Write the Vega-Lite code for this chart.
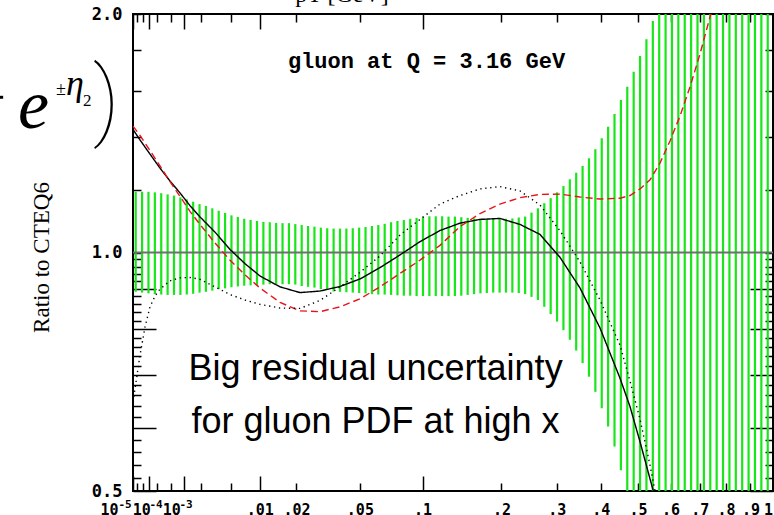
{
  "$schema": "https://vega.github.io/schema/vega-lite/v6.json",
  "width": 640,
  "height": 477,
  "autosize": {"type": "none"},
  "padding": {"left": 133, "top": 14, "right": 1, "bottom": 24},
  "background": "white",
  "config": {
    "view": {"stroke": "black", "strokeWidth": 2},
    "axis": {"grid": false, "domain": false, "tickColor": "black", "tickWidth": 1.5, "labelColor": "black"}
  },
  "datasets": {
    "band": [
      {"x": 1.692e-5, "lo": 0.892, "hi": 1.193},
      {"x": 4.448e-5, "lo": 0.890, "hi": 1.193},
      {"x": 9.230e-5, "lo": 0.888, "hi": 1.193},
      {"x": 1.6595e-4, "lo": 0.886, "hi": 1.191},
      {"x": 2.710e-4, "lo": 0.885, "hi": 1.188},
      {"x": 4.131e-4, "lo": 0.884, "hi": 1.184},
      {"x": 5.977e-4, "lo": 0.884, "hi": 1.180},
      {"x": 8.304e-4, "lo": 0.884, "hi": 1.174},
      {"x": 1.1169e-3, "lo": 0.885, "hi": 1.167},
      {"x": 1.4627e-3, "lo": 0.887, "hi": 1.159},
      {"x": 1.8734e-3, "lo": 0.890, "hi": 1.151},
      {"x": 2.3545e-3, "lo": 0.892, "hi": 1.145},
      {"x": 2.9117e-3, "lo": 0.895, "hi": 1.137},
      {"x": 3.5505e-3, "lo": 0.899, "hi": 1.129},
      {"x": 4.2764e-3, "lo": 0.901, "hi": 1.122},
      {"x": 5.0952e-3, "lo": 0.904, "hi": 1.114},
      {"x": 6.0124e-3, "lo": 0.906, "hi": 1.109},
      {"x": 7.0334e-3, "lo": 0.908, "hi": 1.103},
      {"x": 8.164e-3, "lo": 0.909, "hi": 1.099},
      {"x": 9.4097e-3, "lo": 0.910, "hi": 1.096},
      {"x": 0.010776, "lo": 0.911, "hi": 1.093},
      {"x": 0.012269, "lo": 0.912, "hi": 1.092},
      {"x": 0.013893, "lo": 0.912, "hi": 1.090},
      {"x": 0.015655, "lo": 0.912, "hi": 1.089},
      {"x": 0.017560, "lo": 0.912, "hi": 1.089},
      {"x": 0.019613, "lo": 0.911, "hi": 1.086},
      {"x": 0.021821, "lo": 0.907, "hi": 1.083},
      {"x": 0.024188, "lo": 0.905, "hi": 1.080},
      {"x": 0.026720, "lo": 0.903, "hi": 1.078},
      {"x": 0.029424, "lo": 0.899, "hi": 1.075},
      {"x": 0.032304, "lo": 0.897, "hi": 1.073},
      {"x": 0.035365, "lo": 0.893, "hi": 1.072},
      {"x": 0.038615, "lo": 0.892, "hi": 1.072},
      {"x": 0.042057, "lo": 0.891, "hi": 1.072},
      {"x": 0.045699, "lo": 0.890, "hi": 1.073},
      {"x": 0.049545, "lo": 0.889, "hi": 1.075},
      {"x": 0.053601, "lo": 0.888, "hi": 1.077},
      {"x": 0.057872, "lo": 0.886, "hi": 1.080},
      {"x": 0.062364, "lo": 0.885, "hi": 1.083},
      {"x": 0.067084, "lo": 0.885, "hi": 1.087},
      {"x": 0.072035, "lo": 0.884, "hi": 1.092},
      {"x": 0.077224, "lo": 0.883, "hi": 1.096},
      {"x": 0.082657, "lo": 0.882, "hi": 1.099},
      {"x": 0.088338, "lo": 0.882, "hi": 1.103},
      {"x": 0.094274, "lo": 0.881, "hi": 1.106},
      {"x": 0.100471, "lo": 0.881, "hi": 1.109},
      {"x": 0.106933, "lo": 0.881, "hi": 1.111},
      {"x": 0.113665, "lo": 0.881, "hi": 1.111},
      {"x": 0.120675, "lo": 0.881, "hi": 1.111},
      {"x": 0.127968, "lo": 0.881, "hi": 1.110},
      {"x": 0.135549, "lo": 0.881, "hi": 1.110},
      {"x": 0.143423, "lo": 0.882, "hi": 1.108},
      {"x": 0.151597, "lo": 0.884, "hi": 1.106},
      {"x": 0.160075, "lo": 0.886, "hi": 1.104},
      {"x": 0.168863, "lo": 0.888, "hi": 1.103},
      {"x": 0.177968, "lo": 0.889, "hi": 1.102},
      {"x": 0.187394, "lo": 0.890, "hi": 1.102},
      {"x": 0.197146, "lo": 0.890, "hi": 1.102},
      {"x": 0.207233, "lo": 0.890, "hi": 1.103},
      {"x": 0.217657, "lo": 0.890, "hi": 1.104},
      {"x": 0.228424, "lo": 0.889, "hi": 1.107},
      {"x": 0.239541, "lo": 0.886, "hi": 1.110},
      {"x": 0.251014, "lo": 0.879, "hi": 1.123},
      {"x": 0.262846, "lo": 0.871, "hi": 1.137},
      {"x": 0.275044, "lo": 0.854, "hi": 1.154},
      {"x": 0.287616, "lo": 0.836, "hi": 1.171},
      {"x": 0.300564, "lo": 0.818, "hi": 1.191},
      {"x": 0.313894, "lo": 0.798, "hi": 1.213},
      {"x": 0.327614, "lo": 0.776, "hi": 1.237},
      {"x": 0.341727, "lo": 0.752, "hi": 1.261},
      {"x": 0.356239, "lo": 0.725, "hi": 1.286},
      {"x": 0.371157, "lo": 0.697, "hi": 1.315},
      {"x": 0.386487, "lo": 0.667, "hi": 1.350},
      {"x": 0.402232, "lo": 0.636, "hi": 1.394},
      {"x": 0.418398, "lo": 0.603, "hi": 1.441},
      {"x": 0.434994, "lo": 0.569, "hi": 1.496},
      {"x": 0.452019, "lo": 0.531, "hi": 1.558},
      {"x": 0.469486, "lo": 0.492, "hi": 1.619},
      {"x": 0.487399, "lo": 0.455, "hi": 1.691},
      {"x": 0.505758, "lo": 0.420, "hi": 1.770},
      {"x": 0.524574, "lo": 0.390, "hi": 1.858},
      {"x": 0.543852, "lo": 0.360, "hi": 1.960},
      {"x": 0.563595, "lo": 0.330, "hi": 2.07},
      {"x": 0.583811, "lo": 0.300, "hi": 2.19},
      {"x": 0.604503, "lo": 0.280, "hi": 2.32},
      {"x": 0.625680, "lo": 0.260, "hi": 2.46},
      {"x": 0.647345, "lo": 0.240, "hi": 2.61},
      {"x": 0.669505, "lo": 0.220, "hi": 2.78},
      {"x": 0.692163, "lo": 0.200, "hi": 2.96},
      {"x": 0.715330, "lo": 0.190, "hi": 3.15},
      {"x": 0.739006, "lo": 0.180, "hi": 3.36},
      {"x": 0.763199, "lo": 0.170, "hi": 3.60},
      {"x": 0.787916, "lo": 0.160, "hi": 3.85},
      {"x": 0.813159, "lo": 0.150, "hi": 4.10},
      {"x": 0.838935, "lo": 0.140, "hi": 4.40},
      {"x": 0.865253, "lo": 0.130, "hi": 4.70},
      {"x": 0.892114, "lo": 0.120, "hi": 5.00},
      {"x": 0.919524, "lo": 0.110, "hi": 5.40},
      {"x": 0.947493, "lo": 0.100, "hi": 5.80},
      {"x": 0.976020, "lo": 0.090, "hi": 6.20}
    ],
    "curves": [
      {"s": "solid", "x": 1e-5, "v": 1.430},
      {"s": "solid", "x": 3.353e-5, "v": 1.387},
      {"s": "solid", "x": 1.0741e-4, "v": 1.331},
      {"s": "solid", "x": 2.4795e-4, "v": 1.278},
      {"s": "solid", "x": 4.766e-4, "v": 1.231},
      {"s": "solid", "x": 8.148e-4, "v": 1.189},
      {"s": "solid", "x": 1.284e-3, "v": 1.146},
      {"s": "solid", "x": 1.9056e-3, "v": 1.109},
      {"s": "solid", "x": 3.1708e-3, "v": 1.061},
      {"s": "solid", "x": 4.8995e-3, "v": 1.009},
      {"s": "solid", "x": 7.164e-3, "v": 0.968},
      {"s": "solid", "x": 0.010037, "v": 0.934},
      {"s": "solid", "x": 0.014939, "v": 0.905},
      {"s": "solid", "x": 0.021223, "v": 0.890},
      {"s": "solid", "x": 0.029060, "v": 0.894},
      {"s": "solid", "x": 0.038622, "v": 0.906},
      {"s": "solid", "x": 0.050078, "v": 0.926},
      {"s": "solid", "x": 0.063604, "v": 0.957},
      {"s": "solid", "x": 0.079369, "v": 0.993},
      {"s": "solid", "x": 0.097546, "v": 1.032},
      {"s": "solid", "x": 0.1183, "v": 1.066},
      {"s": "solid", "x": 0.14181, "v": 1.089},
      {"s": "solid", "x": 0.16825, "v": 1.101},
      {"s": "solid", "x": 0.19779, "v": 1.104},
      {"s": "solid", "x": 0.23059, "v": 1.085},
      {"s": "solid", "x": 0.26683, "v": 1.054},
      {"s": "solid", "x": 0.30668, "v": 0.986},
      {"s": "solid", "x": 0.35032, "v": 0.902},
      {"s": "solid", "x": 0.39791, "v": 0.803},
      {"s": "solid", "x": 0.44963, "v": 0.694},
      {"s": "solid", "x": 0.477092, "v": 0.639},
      {"s": "solid", "x": 0.50565, "v": 0.577},
      {"s": "solid", "x": 0.535322, "v": 0.518},
      {"s": "solid", "x": 0.550586, "v": 0.491},
      {"s": "dashed", "x": 1e-5, "v": 1.444},
      {"s": "dashed", "x": 3.353e-5, "v": 1.405},
      {"s": "dashed", "x": 1.0741e-4, "v": 1.345},
      {"s": "dashed", "x": 2.4795e-4, "v": 1.286},
      {"s": "dashed", "x": 4.766e-4, "v": 1.229},
      {"s": "dashed", "x": 8.148e-4, "v": 1.177},
      {"s": "dashed", "x": 1.284e-3, "v": 1.127},
      {"s": "dashed", "x": 1.9056e-3, "v": 1.085},
      {"s": "dashed", "x": 3.1708e-3, "v": 1.028},
      {"s": "dashed", "x": 4.8995e-3, "v": 0.978},
      {"s": "dashed", "x": 7.164e-3, "v": 0.937},
      {"s": "dashed", "x": 0.010037, "v": 0.902},
      {"s": "dashed", "x": 0.014939, "v": 0.865},
      {"s": "dashed", "x": 0.021223, "v": 0.844},
      {"s": "dashed", "x": 0.029060, "v": 0.842},
      {"s": "dashed", "x": 0.038622, "v": 0.854},
      {"s": "dashed", "x": 0.050078, "v": 0.874},
      {"s": "dashed", "x": 0.063604, "v": 0.905},
      {"s": "dashed", "x": 0.079369, "v": 0.941},
      {"s": "dashed", "x": 0.097546, "v": 0.978},
      {"s": "dashed", "x": 0.1183, "v": 1.021},
      {"s": "dashed", "x": 0.14181, "v": 1.078},
      {"s": "dashed", "x": 0.16825, "v": 1.120},
      {"s": "dashed", "x": 0.19779, "v": 1.151},
      {"s": "dashed", "x": 0.23059, "v": 1.173},
      {"s": "dashed", "x": 0.26683, "v": 1.184},
      {"s": "dashed", "x": 0.30668, "v": 1.185},
      {"s": "dashed", "x": 0.35032, "v": 1.175},
      {"s": "dashed", "x": 0.39791, "v": 1.168},
      {"s": "dashed", "x": 0.44963, "v": 1.171},
      {"s": "dashed", "x": 0.477092, "v": 1.180},
      {"s": "dashed", "x": 0.50565, "v": 1.203},
      {"s": "dashed", "x": 0.535322, "v": 1.235},
      {"s": "dashed", "x": 0.56614, "v": 1.297},
      {"s": "dashed", "x": 0.598107, "v": 1.383},
      {"s": "dashed", "x": 0.63128, "v": 1.487},
      {"s": "dashed", "x": 0.66563, "v": 1.618},
      {"s": "dashed", "x": 0.70121, "v": 1.781},
      {"s": "dashed", "x": 0.738026, "v": 1.983},
      {"s": "dashed", "x": 0.74932, "v": 2.05},
      {"s": "dotted", "x": 1e-5, "v": 0.648},
      {"s": "dotted", "x": 1.784e-5, "v": 0.686},
      {"s": "dotted", "x": 3.353e-5, "v": 0.742},
      {"s": "dotted", "x": 6.348e-5, "v": 0.805},
      {"s": "dotted", "x": 1.0741e-4, "v": 0.854},
      {"s": "dotted", "x": 1.680e-4, "v": 0.881},
      {"s": "dotted", "x": 2.4795e-4, "v": 0.899},
      {"s": "dotted", "x": 4.766e-4, "v": 0.921},
      {"s": "dotted", "x": 8.148e-4, "v": 0.929},
      {"s": "dotted", "x": 1.284e-3, "v": 0.930},
      {"s": "dotted", "x": 1.9056e-3, "v": 0.925},
      {"s": "dotted", "x": 3.1708e-3, "v": 0.905},
      {"s": "dotted", "x": 4.8995e-3, "v": 0.885},
      {"s": "dotted", "x": 7.164e-3, "v": 0.871},
      {"s": "dotted", "x": 0.010037, "v": 0.860},
      {"s": "dotted", "x": 0.014939, "v": 0.851},
      {"s": "dotted", "x": 0.021223, "v": 0.850},
      {"s": "dotted", "x": 0.029060, "v": 0.870},
      {"s": "dotted", "x": 0.038622, "v": 0.905},
      {"s": "dotted", "x": 0.050078, "v": 0.944},
      {"s": "dotted", "x": 0.063604, "v": 0.990},
      {"s": "dotted", "x": 0.079369, "v": 1.052},
      {"s": "dotted", "x": 0.097546, "v": 1.101},
      {"s": "dotted", "x": 0.1183, "v": 1.151},
      {"s": "dotted", "x": 0.14181, "v": 1.180},
      {"s": "dotted", "x": 0.16825, "v": 1.203},
      {"s": "dotted", "x": 0.19779, "v": 1.211},
      {"s": "dotted", "x": 0.23059, "v": 1.196},
      {"s": "dotted", "x": 0.26683, "v": 1.148},
      {"s": "dotted", "x": 0.30668, "v": 1.065},
      {"s": "dotted", "x": 0.35032, "v": 0.973},
      {"s": "dotted", "x": 0.39791, "v": 0.871},
      {"s": "dotted", "x": 0.44963, "v": 0.764},
      {"s": "dotted", "x": 0.477092, "v": 0.688},
      {"s": "dotted", "x": 0.50565, "v": 0.616},
      {"s": "dotted", "x": 0.535322, "v": 0.539},
      {"s": "dotted", "x": 0.550586, "v": 0.500},
      {"s": "dotted", "x": 0.559879, "v": 0.480}
    ]
  },
  "resolve": {"axis": {"x": "independent", "y": "independent"}},
  "layer": [
    {
      "data": {"name": "band"},
      "mark": {"type": "rule", "color": "#19e619", "strokeWidth": 2.2, "clip": true},
      "encoding": {
        "x": {
          "field": "x",
          "type": "quantitative",
          "scale": {"type": "pow", "exponent": 0.333333333333, "domain": [0.00001, 1], "nice": false, "zero": false},
          "axis": {
            "orient": "bottom",
            "title": null,
            "values": [0.00001, 0.00002, 0.00005, 0.0001, 0.0002, 0.0005, 0.001, 0.002, 0.005, 0.01, 0.02, 0.05, 0.1, 0.2, 0.3, 0.4, 0.5, 0.6, 0.7, 0.8, 0.9, 1],
            "labelExpr": "(datum.value < 1.5e-5 || (datum.value > 9e-5 && datum.value < 1.1e-4) || (datum.value > 9e-4 && datum.value < 1.1e-3)) ? '10' : datum.value > 0.999 ? '1' : datum.value > 0.0099 ? replace(format(datum.value, '.2~f'), '0.', '.') : ''",
            "labelFont": "DejaVu Sans Mono",
            "labelFontSize": 15,
            "labelFontWeight": "bold",
            "labelFlush": false,
            "labelOverlap": false,
            "labelBaseline": "top",
            "labelAlign": "center",
            "tickSize": {"condition": {"test": "abs(log(datum.value)/LN10 - round(log(datum.value)/LN10)) < 0.01", "value": -15}, "value": -8},
            "labelPadding": {"condition": {"test": "abs(log(datum.value)/LN10 - round(log(datum.value)/LN10)) < 0.01", "value": 26}, "value": 19},
            "labelOffset": {
              "condition": [
                {"test": "datum.value < 1.5e-5", "value": -24},
                {"test": "datum.value > 9e-5 && datum.value < 1.1e-4", "value": -8},
                {"test": "datum.value > 9e-4 && datum.value < 1.1e-3", "value": -13},
                {"test": "datum.value > 0.99", "value": -5}
              ],
              "value": 0
            }
          }
        },
        "y": {
          "field": "lo",
          "type": "quantitative",
          "scale": {"type": "log", "domain": [0.5, 2], "nice": false},
          "axis": {
            "orient": "left",
            "title": "Ratio to CTEQ6",
            "titleFont": "Liberation Serif",
            "titleFontSize": 23,
            "titleFontWeight": "normal",
            "titleColor": "black",
            "titleAngle": 270,
            "titleAlign": "center",
            "titleBaseline": "middle",
            "titleX": -92,
            "titleY": 243,
            "values": [0.5, 0.52, 0.54, 0.56, 0.58, 0.6, 0.62, 0.64, 0.66, 0.68, 0.7, 0.72, 0.74, 0.76, 0.78, 0.8, 0.82, 0.84, 0.86, 0.88, 0.9, 0.92, 0.94, 0.96, 0.98, 1, 1.2, 1.4, 1.6, 1.8, 2],
            "labelExpr": "abs(datum.value - 0.5) < 0.001 ? '0.5' : abs(datum.value - 1) < 0.001 ? '1.0' : abs(datum.value - 2) < 0.001 ? '2.0' : ''",
            "labelFont": "DejaVu Sans Mono",
            "labelFontSize": 17,
            "labelFontWeight": "bold",
            "labelFlush": false,
            "labelOverlap": false,
            "labelAlign": "right",
            "labelBaseline": "middle",
            "tickSize": {"condition": {"test": "datum.value < 0.95 && abs(datum.value*10 - round(datum.value*10)) < 0.01", "value": -23}, "value": -8},
            "labelPadding": {"condition": {"test": "datum.value < 0.95 && abs(datum.value*10 - round(datum.value*10)) < 0.01", "value": 34}, "value": 19}
          }
        },
        "y2": {"field": "hi"}
      }
    },
    {
      "data": {"values": [{}]},
      "mark": {"type": "rule", "color": "#6f6f6f", "strokeWidth": 2},
      "encoding": {
        "y": {"datum": 1, "type": "quantitative", "axis": null}
      }
    },
    {
      "data": {"name": "curves"},
      "mark": {"type": "line", "strokeWidth": 1.4, "clip": true},
      "encoding": {
        "x": {
          "field": "x",
          "type": "quantitative",
          "axis": {
            "orient": "top",
            "title": null,
            "labels": false,
            "values": [0.00001, 0.00002, 0.00005, 0.0001, 0.0002, 0.0005, 0.001, 0.002, 0.005, 0.01, 0.02, 0.05, 0.1, 0.2, 0.3, 0.4, 0.5, 0.6, 0.7, 0.8, 0.9, 1],
            "tickSize": {"condition": {"test": "abs(log(datum.value)/LN10 - round(log(datum.value)/LN10)) < 0.01", "value": -15}, "value": -8}
          }
        },
        "y": {
          "field": "v",
          "type": "quantitative",
          "axis": {
            "orient": "right",
            "title": null,
            "labels": false,
            "values": [0.5, 0.52, 0.54, 0.56, 0.58, 0.6, 0.62, 0.64, 0.66, 0.68, 0.7, 0.72, 0.74, 0.76, 0.78, 0.8, 0.82, 0.84, 0.86, 0.88, 0.9, 0.92, 0.94, 0.96, 0.98, 1, 1.2, 1.4, 1.6, 1.8, 2],
            "tickSize": {"condition": {"test": "datum.value < 0.95 && abs(datum.value*10 - round(datum.value*10)) < 0.01", "value": -23}, "value": -8}
          }
        },
        "color": {
          "field": "s",
          "type": "nominal",
          "scale": {"domain": ["solid", "dashed", "dotted"], "range": ["#000000", "#e8141c", "#000000"]},
          "legend": null
        },
        "strokeDash": {
          "field": "s",
          "type": "nominal",
          "scale": {"domain": ["solid", "dashed", "dotted"], "range": [[1, 0], [7, 4], [1.3, 3.7]]},
          "legend": null
        }
      }
    },
    {
      "data": {"values": [
        {"x": 8.08e-7, "y": 0.4885, "t": "-5"},
        {"x": 1.8236e-4, "y": 0.4885, "t": "-4"},
        {"x": 1.0792e-3, "y": 0.4885, "t": "-3"}
      ]},
      "mark": {"type": "text", "font": "DejaVu Sans Mono", "fontSize": 11, "fontWeight": "bold", "align": "center", "baseline": "top", "color": "black"},
      "encoding": {
        "x": {"field": "x", "type": "quantitative", "axis": null},
        "y": {"field": "y", "type": "quantitative", "axis": null},
        "text": {"field": "t"}
      }
    },
    {
      "data": {"values": [{"x": 0.104, "y": 1.7095, "t": "gluon at Q = 3.16 GeV"}]},
      "mark": {"type": "text", "font": "Liberation Mono", "fontSize": 22, "fontWeight": "bold", "align": "center", "baseline": "alphabetic", "color": "black"},
      "encoding": {
        "x": {"field": "x", "type": "quantitative", "axis": null},
        "y": {"field": "y", "type": "quantitative", "axis": null},
        "text": {"field": "t"}
      }
    },
    {
      "data": {"values": [
        {"x": 0.06038, "y": 0.6904, "t": "Big residual uncertainty"},
        {"x": 0.06038, "y": 0.5918, "t": "for gluon PDF at high x"}
      ]},
      "mark": {"type": "text", "font": "Liberation Sans", "fontSize": 36, "align": "center", "baseline": "alphabetic", "color": "black"},
      "encoding": {
        "x": {"field": "x", "type": "quantitative", "axis": null},
        "y": {"field": "y", "type": "quantitative", "axis": null},
        "text": {"field": "t"}
      }
    },
    {
      "data": {"values": [{"x": 0.03968, "y": 2.071, "t": "pT [GeV]"}]},
      "mark": {"type": "text", "font": "Liberation Serif", "fontSize": 24, "align": "center", "baseline": "alphabetic", "color": "black"},
      "encoding": {
        "x": {"field": "x", "type": "quantitative", "axis": null},
        "y": {"field": "y", "type": "quantitative", "axis": null},
        "text": {"field": "t"}
      }
    },
    {
      "data": {"values": [{"x": -0.005144, "y": 1.4826, "t": "−"}]},
      "mark": {"type": "text", "font": "Liberation Serif", "fontSize": 60, "align": "right", "baseline": "alphabetic", "color": "black"},
      "encoding": {
        "x": {"field": "x", "type": "quantitative", "axis": null},
        "y": {"field": "y", "type": "quantitative", "axis": null},
        "text": {"field": "t"}
      }
    },
    {
      "data": {"values": [{"x": -0.003672, "y": 1.4359, "t": "e"}]},
      "mark": {"type": "text", "font": "Liberation Serif", "fontSize": 70, "fontStyle": "italic", "align": "left", "baseline": "alphabetic", "color": "black"},
      "encoding": {
        "x": {"field": "x", "type": "quantitative", "axis": null},
        "y": {"field": "y", "type": "quantitative", "axis": null},
        "text": {"field": "t"}
      }
    },
    {
      "data": {"values": [{"x": -0.00088969, "y": 1.5805, "t": "±"}]},
      "mark": {"type": "text", "font": "Liberation Serif", "fontSize": 18, "align": "left", "baseline": "alphabetic", "color": "black"},
      "encoding": {
        "x": {"field": "x", "type": "quantitative", "axis": null},
        "y": {"field": "y", "type": "quantitative", "axis": null},
        "text": {"field": "t"}
      }
    },
    {
      "data": {"values": [{"x": -0.0005293, "y": 1.5805, "t": "η"}]},
      "mark": {"type": "text", "font": "Liberation Serif", "fontSize": 36, "fontStyle": "italic", "align": "left", "baseline": "alphabetic", "color": "black"},
      "encoding": {
        "x": {"field": "x", "type": "quantitative", "axis": null},
        "y": {"field": "y", "type": "quantitative", "axis": null},
        "text": {"field": "t"}
      }
    },
    {
      "data": {"values": [{"x": -0.00016547, "y": 1.5308, "t": "2"}]},
      "mark": {"type": "text", "font": "Liberation Serif", "fontSize": 17, "align": "left", "baseline": "alphabetic", "color": "black"},
      "encoding": {
        "x": {"field": "x", "type": "quantitative", "axis": null},
        "y": {"field": "y", "type": "quantitative", "axis": null},
        "text": {"field": "t"}
      }
    },
    {
      "data": {"values": [{"x": -0.00006215, "y": 1.4318, "t": ")"}]},
      "mark": {"type": "text", "font": "Roboto", "fontSize": 88, "fontWeight": 100, "align": "left", "baseline": "alphabetic", "color": "black"},
      "encoding": {
        "x": {"field": "x", "type": "quantitative", "axis": null},
        "y": {"field": "y", "type": "quantitative", "axis": null},
        "text": {"field": "t"}
      }
    }
  ]
}
